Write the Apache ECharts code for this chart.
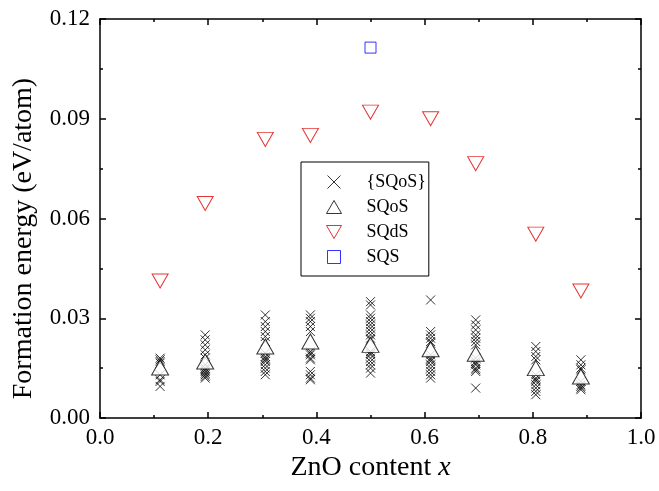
<!DOCTYPE html>
<html><head><meta charset="utf-8">
<script src="https://cdn.jsdelivr.net/npm/echarts@6/dist/echarts.min.js"></script>
<style>html,body{margin:0;padding:0;background:#fff}#c{width:659px;height:491px}</style>
</head><body><div id="c"></div>
<script>
// Compositions (ZnO content x)
const xs = [4/36, 7/36, 11/36, 14/36, 18/36, 22/36, 25/36, 29/36, 32/36];
// {SQoS} ensemble values per composition
const crossVals = [
  [0.018, 0.0175, 0.017, 0.0165, 0.013, 0.0115, 0.011, 0.0095],
  [0.025, 0.0235, 0.022, 0.0205, 0.019, 0.018, 0.016, 0.015, 0.0145, 0.014, 0.0135, 0.013, 0.0125, 0.012],
  [0.031, 0.029, 0.0275, 0.026, 0.0245, 0.023, 0.0195, 0.0185, 0.018, 0.0175, 0.017, 0.016, 0.015, 0.014, 0.013],
  [0.031, 0.030, 0.029, 0.0275, 0.026, 0.020, 0.0195, 0.019, 0.018, 0.0175, 0.014, 0.013, 0.012, 0.0115],
  [0.035, 0.034, 0.031, 0.030, 0.029, 0.028, 0.027, 0.026, 0.025, 0.024, 0.0235, 0.020, 0.0195, 0.019, 0.018, 0.017, 0.016, 0.015, 0.0135],
  [0.0355, 0.026, 0.025, 0.024, 0.023, 0.0225, 0.019, 0.018, 0.0175, 0.017, 0.016, 0.015, 0.014, 0.013, 0.012],
  [0.0295, 0.028, 0.0265, 0.025, 0.024, 0.023, 0.022, 0.018, 0.017, 0.0165, 0.016, 0.015, 0.0145, 0.014, 0.009],
  [0.0215, 0.020, 0.0185, 0.0175, 0.013, 0.012, 0.0115, 0.011, 0.010, 0.009, 0.008, 0.007],
  [0.0175, 0.016, 0.015, 0.0145, 0.011, 0.010, 0.0095, 0.009, 0.0085]
];
const sqosVals = [0.0152, 0.0170, 0.0215, 0.0230, 0.0220, 0.0207, 0.0193, 0.0150, 0.0125];
const sqdsVals = [0.0412, 0.0645, 0.0838, 0.0850, 0.0920, 0.0900, 0.0765, 0.0553, 0.0382];
const sqsX = [0.5];
const sqsVals = [0.1114];

const seriesNames = ['{SQoS}', 'SQoS', 'SQdS', 'SQS'];

const crossData = [];
xs.forEach((x, i) => crossVals[i].forEach(v => crossData.push([x, v])));
const sqosData = xs.map((x, i) => [x, sqosVals[i]]);
const sqdsData = xs.map((x, i) => [x, sqdsVals[i]]);
const sqsData = sqsX.map((x, i) => [x, sqsVals[i]]);

const FONT = 'Liberation Serif';
const crossPath = 'path://M0,0L10,10M10,0L0,10';
const invTri = 'path://M0,0L10,0L5,8.66Z';

const chart = echarts.init(document.getElementById('c'), null, {renderer: 'canvas'});
const axisLine = {show: true, onZero: false, lineStyle: {color: '#000', width: 1.5}};
const tick = {inside: true, length: 6, lineStyle: {color: '#000', width: 1.5}};
const minor = {show: true, splitNumber: 2, length: 3, lineStyle: {color: '#000', width: 1.5}};
chart.setOption({
  animation: false,
  backgroundColor: '#fff',
  textStyle: {fontFamily: FONT},
  grid: {left: 100, right: 18, top: 19, bottom: 73, containLabel: false},
  legend: {
    orient: 'vertical',
    left: 301, top: 162,
    data: [
      {name: seriesNames[0], icon: crossPath, itemStyle: {color: 'none', borderColor: '#000', borderWidth: 1}},
      {name: seriesNames[1], icon: 'path://M5,0L10,8.66L0,8.66Z', itemStyle: {color: '#fff', borderColor: '#000', borderWidth: 1}},
      {name: seriesNames[2], icon: invTri, itemStyle: {color: '#fff', borderColor: '#e00000', borderWidth: 1}},
      {name: seriesNames[3], icon: 'path://M0,0L10,0L10,10L0,10Z', itemStyle: {color: '#fff', borderColor: '#0000ff', borderWidth: 1}}
    ],
    itemWidth: 15, itemHeight: 13, itemGap: 5,
    padding: [10, 3, 9, 24],
    borderColor: '#000', borderWidth: 1,
    textStyle: {fontFamily: FONT, fontSize: 18, color: '#000', lineHeight: 20, padding: [0, 0, 0, 20]},
    selectedMode: false
  },
  xAxis: [{
    type: 'value', min: 0, max: 1, interval: 0.2,
    name: '{a|ZnO content }{b|x}', nameLocation: 'middle', nameGap: 32,
    nameTextStyle: {rich: {a: {fontFamily: FONT, fontSize: 28, color: '#000'}, b: {fontFamily: FONT, fontSize: 28, fontStyle: 'italic', color: '#000'}}},
    axisLine: axisLine, axisTick: tick, minorTick: minor,
    axisLabel: {fontFamily: FONT, fontSize: 23, color: '#000', margin: 8, formatter: v => v.toFixed(1)},
    splitLine: {show: false}
  }, {
    type: 'value', min: 0, max: 1, interval: 0.2, position: 'top',
    axisLine: axisLine, axisTick: tick, minorTick: minor,
    axisLabel: {show: false}, splitLine: {show: false}
  }],
  yAxis: [{
    type: 'value', min: 0, max: 0.12, interval: 0.03,
    name: 'Formation energy (eV/atom)', nameLocation: 'middle', nameGap: 62,
    nameTextStyle: {fontFamily: FONT, fontSize: 28, color: '#000', padding: [0, 40, 0, 0]},
    axisLine: axisLine, axisTick: tick, minorTick: minor,
    axisLabel: {fontFamily: FONT, fontSize: 23, color: '#000', margin: 10, formatter: v => v.toFixed(2)},
    splitLine: {show: false}
  }, {
    type: 'value', min: 0, max: 0.12, interval: 0.03, position: 'right',
    axisLine: axisLine, axisTick: tick, minorTick: minor,
    axisLabel: {show: false}, splitLine: {show: false}
  }],
  series: [
    {name: seriesNames[0], type: 'scatter', data: crossData, symbol: crossPath, symbolSize: 9,
     itemStyle: {color: 'none', borderColor: '#000', borderWidth: 1}},
    {name: seriesNames[1], type: 'scatter', data: sqosData, symbol: 'triangle', symbolSize: [17, 15],
     itemStyle: {color: '#fff', borderColor: '#000', borderWidth: 1}, z: 3},
    {name: seriesNames[2], type: 'scatter', data: sqdsData, symbol: invTri, symbolSize: [16, 14],
     itemStyle: {color: '#fff', borderColor: '#e00000', borderWidth: 1}},
    {name: seriesNames[3], type: 'scatter', data: sqsData, symbol: 'rect', symbolSize: 11,
     itemStyle: {color: '#fff', borderColor: '#0000ff', borderWidth: 1}}
  ]
});
</script></body></html>
